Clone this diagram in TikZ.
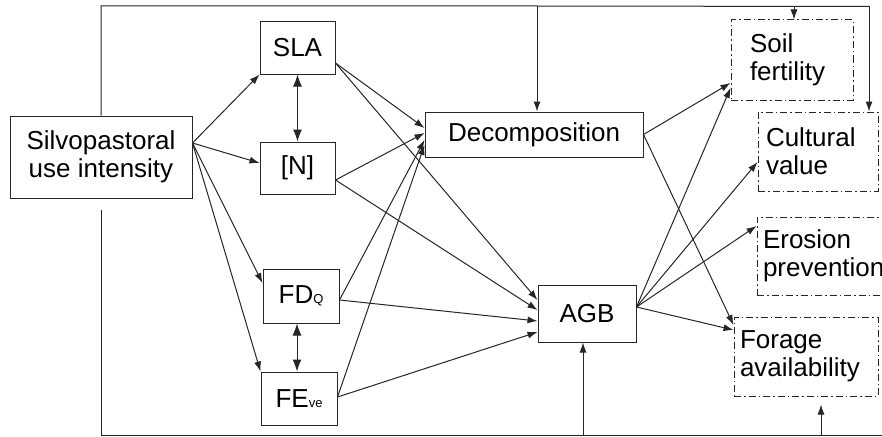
\documentclass[tikz,border=0pt]{standalone}
\usepackage{fontspec}
\setmainfont{Liberation Sans}
\usetikzlibrary{arrows.meta,calc}
\tikzset{
  ln/.style={draw=black!85, line width=1pt},
  arr/.style={ln, -{Latex[length=10pt,width=7pt]}},
  darr/.style={ln, {Latex[length=12pt,width=9pt]}-{Latex[length=12pt,width=9pt]}},
  box/.style={ln, rectangle, inner sep=0pt, font=\fontsize{26}{28}\selectfont, align=center},
  esbox/.style={draw=black!85, line width=1pt, dash pattern=on 7pt off 3pt on 1.5pt off 3pt,
    rectangle, inner ysep=0pt, font=\fontsize{26}{28}\selectfont, align=left},
}
\newcommand{\smallsub}[1]{{\fontsize{13}{13}\selectfont #1}}
\begin{document}
\begin{tikzpicture}[x=1pt,y=-1pt]
\clip (0,0) rectangle (882,436);
\fill[white] (0,0) rectangle (882,436);

% nodes
\node[box, minimum width=182pt, minimum height=82pt] (sil) at (101,157) {Silvopastoral\\use intensity};
\node[box, minimum width=75pt, minimum height=52pt] (sla) at (297.5,48) {SLA};
\node[box, minimum width=75pt, minimum height=52pt] (n) at (297.5,168) {[N]};
\node[box, minimum width=76pt, minimum height=54pt] (fd) at (301,296) {FD\smallsub{Q}};
\node[box, minimum width=76pt, minimum height=53pt] (fe) at (299,398.5) {FE\smallsub{ve}};
\node[box, minimum width=218pt, minimum height=45pt] (dec) at (534,134.5) {Decomposition};
\node[box, minimum width=98pt, minimum height=57pt] (agb) at (587,313.5) {AGB};

\node[esbox, inner xsep=19pt, text width=84pt, minimum height=80pt] (soil) at (792,60) {Soil\\fertility};
\node[esbox, inner xsep=8pt, text width=104pt, minimum height=79pt] (cul) at (818,151.5) {Cultural\\value};
\node[esbox, inner xsep=6pt, text width=138pt, minimum height=78pt] (ero) at (832,256) {Erosion\\prevention};
\node[esbox, inner xsep=6pt, text width=132pt, minimum height=79pt] (for) at (806,356.5) {Forage\\availability};

% from silvopastoral use intensity
\draw[arr] ([yshift=14pt]sil.east) -- (sla.south west);
\draw[arr] ([yshift=14pt]sil.east) -- ([yshift=5pt]n.west);
\draw[arr] ([yshift=14pt]sil.east) -- ([yshift=13pt]fd.west);
\draw[arr] ([yshift=14pt]sil.east) -- (fe.north west);

% correlations
\draw[darr] (sla.south) -- (n.north);
\draw[darr] ([xshift=-4pt]fd.south) -- ([xshift=-4pt]fd.south |- fe.north);

% traits to decomposition and AGB
\draw[arr] ([yshift=-15pt]sla.east) -- ([yshift=6.5pt]dec.west);
\draw[arr] ([yshift=-15pt]sla.east) -- ([yshift=13.5pt]agb.west);
\draw[arr] ([yshift=-12pt]n.east) -- ([yshift=1.5pt]dec.west);
\draw[arr] ([yshift=-12pt]n.east) -- ([yshift=3.5pt]agb.west);
\draw[arr] ([yshift=-4pt]fd.east) -- ([yshift=-5.5pt]dec.west);
\draw[arr] ([yshift=-4pt]fd.east) -- ([yshift=-7.5pt]agb.west);
\draw[arr] ([yshift=1.5pt]fe.east) -- ([yshift=-10.5pt]dec.west);
\draw[arr] ([yshift=1.5pt]fe.east) -- ([yshift=-18.5pt]agb.west);

% to ecosystem services
\draw[arr] (dec.east) -- ([yshift=-23pt]soil.west);
\draw[arr] (dec.east) -- ([yshift=31.5pt]for.west);
\draw[arr] ([yshift=6.5pt]agb.east) -- ([yshift=-28pt]soil.west);
\draw[arr] ([yshift=6.5pt]agb.east) -- ([yshift=-10.5pt]cul.west);
\draw[arr] ([yshift=6.5pt]agb.east) -- ([yshift=30pt]ero.west);
\draw[arr] ([yshift=6.5pt]agb.east) -- ([yshift=26.5pt]for.west);

% top feedback line
\coordinate (tl) at (101,6);
\coordinate (tdec) at (537,6);
\coordinate (tsoil) at (794,6.5);
\coordinate (tcul) at (869,6.5);
\draw[ln] (sil.north) -- (tl) -- (tdec) -- (tcul);
\draw[arr] (tdec) -- (tdec |- dec.north);
\draw[arr] (tsoil) -- (tsoil |- soil.north);
\draw[arr] (tcul) -- (tcul |- cul.north);

% bottom feedback line
\coordinate (bs) at (101,210);
\coordinate (bl) at (101,435);
\coordinate (bagb) at (583,435);
\coordinate (bfor) at (821,435);
\coordinate (br) at (884,435);
\draw[ln] (bs) -- (bl) -- (br);
\draw[arr] (bagb) -- (bagb |- agb.south);
\draw[arr, shorten >=8pt] (bfor) -- (bfor |- for.south);
\end{tikzpicture}
\end{document}
